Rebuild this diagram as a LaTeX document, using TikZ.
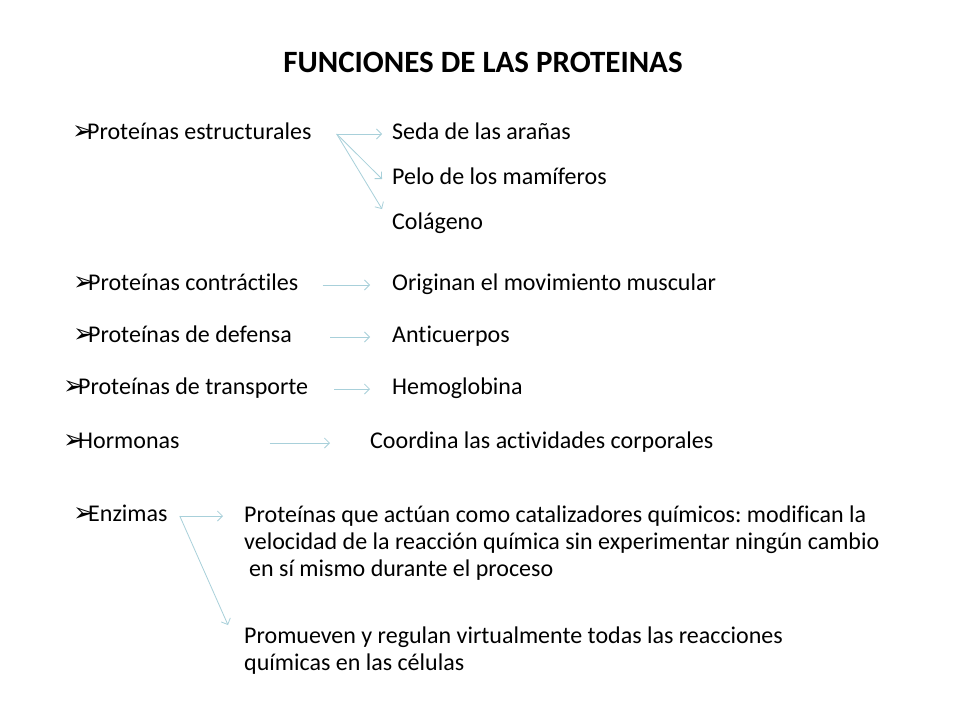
\documentclass[tikz,border=0pt]{standalone}
\usepackage{fontspec}
\setmainfont{Carlito}[Ligatures=NoCommon]
\newfontfamily\symfont{DejaVu Sans}
\usetikzlibrary{positioning}
\usetikzlibrary{arrows.meta}
\frenchspacing
\definecolor{flechaazul}{RGB}{168,208,218}
\newcommand{\bul}{\makebox[15pt][l]{\symfont\fontsize{26}{26}\selectfont ➢}}
\tikzset{
  item/.style={anchor=west, inner sep=0pt, text height=11pt, text depth=0pt, font=\fontsize{24}{27}\selectfont},
  parrafo/.style={anchor=base west, inner sep=0pt, align=left, font=\fontsize{24}{27}\selectfont},
  flecha/.style={-{Straight Barb[length=5pt,width=10pt]}, draw=flechaazul, line width=0.8pt}
}

\begin{document}
\begin{tikzpicture}[x=1pt,y=-1pt]
            \useasboundingbox[fill=white] (0,0) rectangle (960,720);
            % Titulo
            \node[anchor=base, inner sep=0pt, font=\fontsize{31}{31}\selectfont\bfseries] (titulo) at (483,72) {FUNCIONES DE LAS PROTEINAS};
            
            % Proteinas estructurales
            \node[item] (estruct) at (72,134) {\bul Proteínas estructurales};
            \node[item] (seda) at (392,134) {Seda de las arañas};
            \node[item] (pelo) at (392,179) {Pelo de los mamíferos};
            \node[item] (colageno) at (392,224) {Colágeno};
            
            % Contractiles, defensa, transporte, hormonas
            \node[item] (contract) at (73,285) {\bul Proteínas contráctiles};
            \node[item] (movim) at (392,285) {Originan el movimiento muscular};
            \node[item] (defensa) at (73,337) {\bul Proteínas de defensa};
            \node[item] (anticuerpos) at (392,337) {Anticuerpos};
            \node[item] (transp) at (63,389) {\bul Proteínas de transporte};
            \node[item] (hemo) at (392,389) {Hemoglobina};
            \node[item] (hormonas) at (63,443) {\bul Hormonas};
            \node[item] (coordina) at (370,443) {Coordina las actividades corporales};
            
            % Enzimas (base = ultima linea)
            \node[item] (enzimas) at (73,516) {\bul Enzimas};
            \node[parrafo] (catal) at (244,576) {Proteínas que actúan como catalizadores químicos: modifican la\\velocidad de la reacción química sin experimentar ningún cambio\\\hspace*{5pt}en sí mismo durante el proceso};
            \node[parrafo] (promueven) at (244,670) {Promueven y regulan virtualmente todas las reacciones\\químicas en las células};
            
            \draw[flecha] ([xshift=25pt]estruct.east) -- ([xshift=-10pt]seda.west);
            \draw[flecha] ([xshift=25pt]estruct.east) -- ([xshift=-10pt]pelo.west);
            \draw[flecha] ([xshift=25pt]estruct.east) -- ([shift={(-10pt,15pt)}]colageno.west);
            \draw[flecha] ([xshift=24pt]contract.east) -- ([xshift=-22pt]movim.west);
            \draw[flecha] ([xshift=38pt]defensa.east) -- ([xshift=-22pt]anticuerpos.west);
            \draw[flecha] ([xshift=26pt]transp.east) -- ([xshift=-22pt]hemo.west);
            \draw[flecha] ([xshift=90pt]hormonas.east) -- ([xshift=-40pt]coordina.west);
            \draw[flecha] ([xshift=12pt]enzimas.east) coordinate (ezorigen) -- ([xshift=-21pt]catal.base west |- ezorigen);
            \draw[flecha] (ezorigen) -- ([shift={(-16pt,45pt)}]promueven.base west);
        \end{tikzpicture}
\end{document}
